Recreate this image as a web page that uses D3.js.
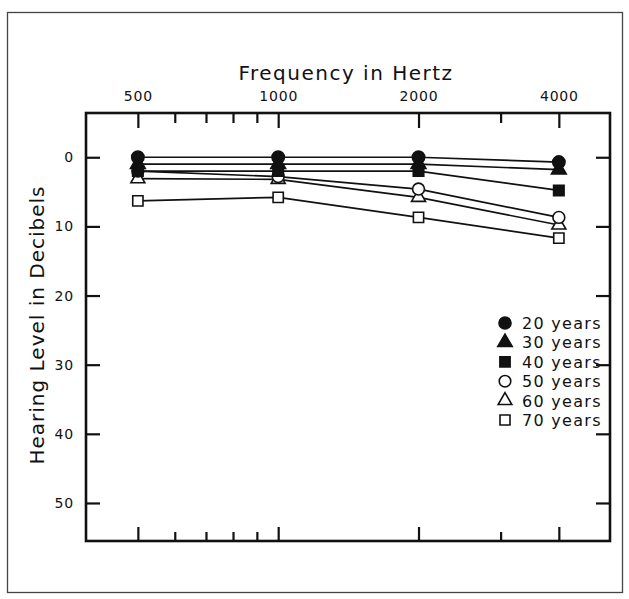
<!DOCTYPE html>
<html>
<head>
<meta charset="utf-8">
<script src="https://cdn.jsdelivr.net/npm/d3@7"></script>
<style>
  body { margin: 0; background: #fff; }
  text { font-family: "DejaVu Sans", sans-serif; fill: #111; }
</style>
</head>
<body>
<div id="chart"></div>
<script>
// Chart data
var frequencies = [500, 1000, 2000, 4000];
var minorFreqs = [600, 700, 800, 900, 3000];
var dbTicks = [0, 10, 20, 30, 40, 50];
var ageLabels = ["20 years", "30 years", "40 years", "50 years", "60 years", "70 years"];
var years20 = [0, 0, 0, 0.7];
var years30 = [1, 1, 1, 1.8];
var years40 = [2, 2, 2, 4.8];
var years50 = [2, 2.8, 4.6, 8.7];
var years60 = [3.1, 3.2, 5.8, 9.8];
var years70 = [6.3, 5.8, 8.7, 11.7];

var svgWidth = 629;
var svgHeight = 599;

var margin = { top: 113, right: 19, bottom: 58, left: 86 };
var chartWidth = svgWidth - margin.left - margin.right;
var chartHeight = svgHeight - margin.top - margin.bottom;

var svg = d3.select("#chart")
    .append("svg")
    .attr("width", svgWidth)
    .attr("height", svgHeight);

// outer frame
svg.append("rect")
    .attr("x", 7.5).attr("y", 12.5)
    .attr("width", 615).attr("height", 580)
    .attr("fill", "none")
    .attr("stroke", "#444")
    .attr("stroke-width", 1.3);

var chartGroup = svg.append("g")
    .attr("transform", `translate(${margin.left}, ${margin.top})`);

var xScale = d3.scaleLog()
    .domain([387, 5150])
    .range([0, chartWidth]);

var yScale = d3.scaleLinear()
    .domain([-6.4, 55.5])
    .range([0, chartHeight]);

// axes, ticks point inward
var topAxis = d3.axisTop(xScale).tickValues(frequencies).tickSize(-15)
    .tickPadding(12).tickFormat(d3.format("d"));
var topMinor = d3.axisTop(xScale).tickValues(minorFreqs).tickSize(-10).tickFormat("");
var bottomAxis = d3.axisBottom(xScale).tickValues(frequencies).tickSize(-14).tickFormat("");
var bottomMinor = d3.axisBottom(xScale).tickValues(minorFreqs).tickSize(-9).tickFormat("");
var leftAxis = d3.axisLeft(yScale).tickValues(dbTicks).tickSize(-14).tickPadding(12);
var rightAxis = d3.axisRight(yScale).tickValues(dbTicks).tickSize(-14).tickFormat("");

function styleAxis(g) {
    g.select(".domain").remove();
    g.selectAll("line").attr("stroke", "#111").attr("stroke-width", 2.2);
    g.selectAll("text").attr("font-size", 14).attr("fill", "#111")
        .attr("letter-spacing", 0.8)
        .attr("font-family", "DejaVu Sans, sans-serif");
}

chartGroup.append("g").call(topAxis).call(styleAxis);
chartGroup.append("g").call(topMinor).call(styleAxis);
chartGroup.append("g").attr("transform", `translate(0, ${chartHeight})`).call(bottomAxis).call(styleAxis);
chartGroup.append("g").attr("transform", `translate(0, ${chartHeight})`).call(bottomMinor).call(styleAxis);
chartGroup.append("g").call(leftAxis).call(styleAxis);
chartGroup.append("g").attr("transform", `translate(${chartWidth}, 0)`).call(rightAxis).call(styleAxis);

// plot box
chartGroup.append("rect")
    .attr("width", chartWidth).attr("height", chartHeight)
    .attr("fill", "none").attr("stroke", "#111").attr("stroke-width", 2.6);

// titles
svg.append("text")
    .attr("x", margin.left + chartWidth / 2 - 2)
    .attr("y", 80)
    .attr("text-anchor", "middle")
    .attr("font-size", 20)
    .attr("letter-spacing", 1.5)
    .text("Frequency in Hertz");

svg.append("text")
    .attr("transform", `translate(44, 325) rotate(-90)`)
    .attr("text-anchor", "middle")
    .attr("font-size", 20)
    .attr("letter-spacing", 1)
    .text("Hearing Level in Decibels");

// series
var allSeries = [years20, years30, years40, years50, years60, years70];
var symbols = [d3.symbolCircle, d3.symbolTriangle, d3.symbolSquare,
               d3.symbolCircle, d3.symbolTriangle, d3.symbolSquare];
var filled = [true, true, true, false, false, false];
var symSize = [120, 95, 110, 110, 85, 105];

var line = d3.line()
    .x((d, i) => xScale(frequencies[i]))
    .y(d => yScale(d));

allSeries.forEach(function(vals) {
    chartGroup.append("path")
        .datum(vals)
        .attr("d", line)
        .attr("fill", "none")
        .attr("stroke", "#111")
        .attr("stroke-width", 1.7);
});

// draw markers from oldest to youngest so filled ones sit on top
for (var s = allSeries.length - 1; s >= 0; s--) {
    var sym = d3.symbol().type(symbols[s]).size(symSize[s]);
    chartGroup.selectAll(".m" + s)
        .data(allSeries[s])
        .enter()
        .append("path")
        .attr("class", "m" + s)
        .attr("d", sym)
        .attr("transform", (d, i) => `translate(${xScale(frequencies[i])}, ${yScale(d)})`)
        .attr("fill", filled[s] ? "#111" : "#fff")
        .attr("stroke", "#111")
        .attr("stroke-width", 1.6);
}

// legend
var legend = svg.append("g").attr("transform", "translate(505, 323)");
ageLabels.forEach(function(lab, i) {
    var row = legend.append("g").attr("transform", `translate(0, ${i * 19.4})`);
    row.append("path")
        .attr("d", d3.symbol().type(symbols[i]).size(symSize[i] * 0.95))
        .attr("fill", filled[i] ? "#111" : "#fff")
        .attr("stroke", "#111")
        .attr("stroke-width", 1.6);
    row.append("text")
        .attr("x", 17)
        .attr("y", 6)
        .attr("font-size", 16)
        .attr("letter-spacing", 1.3)
        .text(lab);
});
</script>
</body>
</html>
